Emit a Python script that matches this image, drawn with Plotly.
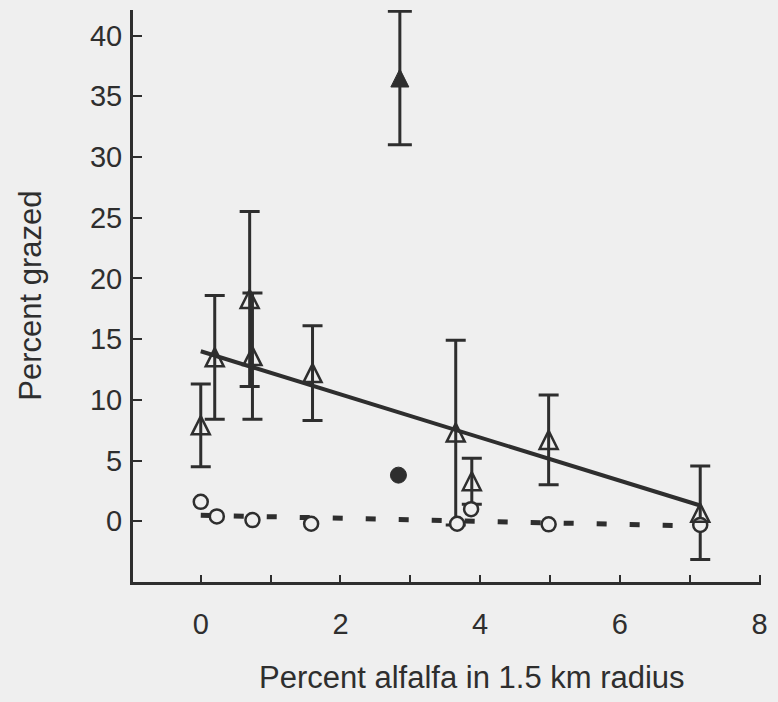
import plotly.graph_objects as go

# Open triangles: percent grazed vs. percent alfalfa, with error bars
tri_x = [0.0, 0.2, 0.7, 0.74, 1.6, 3.65, 3.88, 4.98, 7.15]
tri_y = [7.9, 13.5, 18.3, 13.6, 12.2, 7.3, 3.3, 6.7, 0.7]
tri_err = [3.4, 5.1, 7.2, 5.2, 3.9, 7.6, 1.9, 3.7, 3.85]

# Filled triangle (outlier site)
ftri_x = [2.85]
ftri_y = [36.5]
ftri_err = [5.5]

# Filled circle
fcir_x = [2.83]
fcir_y = [3.8]

# Open circles
cir_x = [0.0, 0.23, 0.74, 1.58, 3.67, 3.87, 4.98, 7.15]
cir_y = [1.6, 0.4, 0.1, -0.2, -0.2, 1.0, -0.25, -0.3]

# Fitted lines
fit_x = [0.0, 7.15]
fit_y = [14.0, 1.3]
dash_x = [0.0, 7.15]
dash_y = [0.5, -0.4]

ink = "#2e2e2e"
bg = "#efefef"
font = "Liberation Sans, Arial, sans-serif"

Y_RANGE = [-5.0, 42.1]
PLOT_H = 572          # plot area height in px
TRI = 18              # triangle marker width/height in px
# The arrow-up symbol has its apex on the data point; a twin y axis shifted by
# half a marker height centres the triangle on its value instead.
shift = (TRI / 2) * (Y_RANGE[1] - Y_RANGE[0]) / PLOT_H
Y2_RANGE = [Y_RANGE[0] - shift, Y_RANGE[1] - shift]

fig = go.Figure()

fig.add_trace(go.Scatter(
    x=dash_x, y=dash_y, mode="lines",
    line=dict(color=ink, width=5, dash="10px,23px"),
    hoverinfo="skip"))

fig.add_trace(go.Scatter(
    x=fit_x, y=fit_y, mode="lines",
    line=dict(color=ink, width=4),
    hoverinfo="skip"))

# error bars
fig.add_trace(go.Scatter(
    x=tri_x, y=tri_y, mode="markers",
    marker=dict(size=1, color="rgba(0,0,0,0)"),
    error_y=dict(type="data", array=tri_err, visible=True,
                 color=ink, thickness=3, width=10)))

fig.add_trace(go.Scatter(
    x=ftri_x, y=ftri_y, mode="markers",
    marker=dict(size=1, color="rgba(0,0,0,0)"),
    error_y=dict(type="data", array=ftri_err, visible=True,
                 color=ink, thickness=3, width=12)))

# triangles
fig.add_trace(go.Scatter(
    x=tri_x, y=tri_y, mode="markers", yaxis="y2",
    marker=dict(symbol="arrow-up-open", size=TRI, color=ink,
                line=dict(color=ink, width=2.5))))

fig.add_trace(go.Scatter(
    x=ftri_x, y=ftri_y, mode="markers", yaxis="y2",
    marker=dict(symbol="arrow-up", size=TRI, color=ink,
                line=dict(color=ink, width=1))))

# circles
fig.add_trace(go.Scatter(
    x=cir_x, y=cir_y, mode="markers",
    marker=dict(symbol="circle", size=14, color=bg,
                line=dict(color=ink, width=2.5))))

fig.add_trace(go.Scatter(
    x=fcir_x, y=fcir_y, mode="markers",
    marker=dict(symbol="circle", size=16, color=ink,
                line=dict(color=ink, width=1))))

fig.update_layout(
    width=778, height=702,
    margin=dict(l=133, r=13, t=10, b=120),
    paper_bgcolor=bg, plot_bgcolor=bg,
    showlegend=False,
    font=dict(family=font, size=29, color=ink),
    xaxis=dict(
        range=[-0.97, 8.02],
        tickvals=[0, 1, 2, 3, 4, 5, 6, 7, 8],
        ticktext=["0", "", "2", "", "4", "", "6", "", "8"],
        tickfont=dict(size=29),
        ticks="inside", ticklen=7, tickwidth=2, tickcolor=ink,
        showline=True, linecolor=ink, linewidth=3,
        showgrid=False, zeroline=False,
        ticklabelstandoff=14,
    ),
    yaxis=dict(
        range=Y_RANGE,
        tickvals=[0, 5, 10, 15, 20, 25, 30, 35, 40],
        tickfont=dict(size=29),
        ticks="inside", ticklen=9, tickwidth=2, tickcolor=ink,
        showline=True, linecolor=ink, linewidth=3,
        showgrid=False, zeroline=False,
        ticklabelstandoff=2,
    ),
    yaxis2=dict(
        range=Y2_RANGE, overlaying="y", visible=False,
        showgrid=False, zeroline=False,
    ),
    annotations=[
        dict(text="Percent grazed", xref="paper", yref="paper",
             x=(29 - 133) / 632, y=0.5, xanchor="center", yanchor="middle",
             textangle=-90, showarrow=False, font=dict(size=31, color=ink)),
        dict(text="Percent alfalfa in 1.5 km radius", xref="paper", yref="paper",
             x=(474 - 133) / 632, y=-(677 - 582) / 572, xanchor="center", yanchor="middle",
             showarrow=False, font=dict(size=31, color=ink)),
    ],
)

fig.write_html("out.html")
